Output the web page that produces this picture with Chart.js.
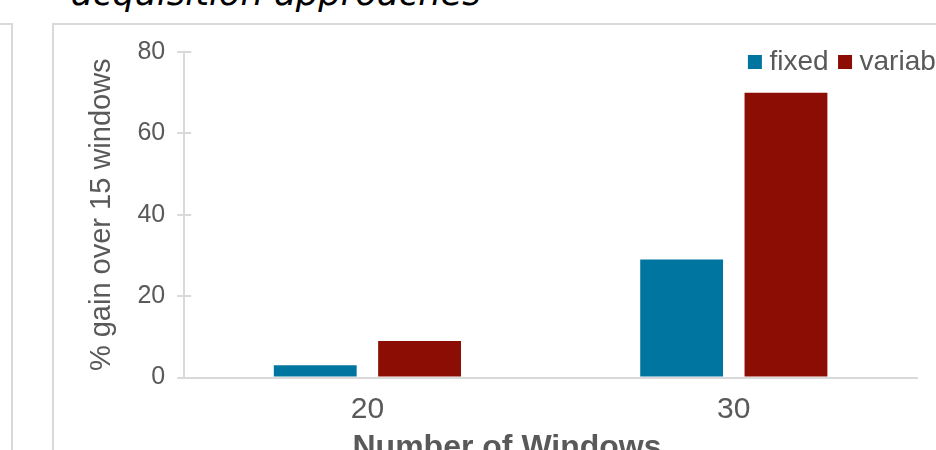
<!DOCTYPE html>
<html>
<head>
<meta charset="utf-8">
<script src="https://cdn.jsdelivr.net/npm/chart.js@4/dist/chart.umd.min.js"></script>
<style>
  html, body { margin: 0; padding: 0; background: #ffffff; }
  body { width: 936px; height: 450px; overflow: hidden; position: relative; }
  #pageTitle { position: absolute; left: 71px; top: -25px; font: italic 35.4px 'DejaVu Sans'; line-height: 35px; color: #000; white-space: nowrap; }
  #leftPanel { position: absolute; left: -100px; top: 23px; width: 111px; height: 500px; border-top: 2px solid #D9D9D9; border-right: 2px solid #D9D9D9; }
  #frame { position: absolute; left: 52px; top: 23px; width: 1000px; height: 500px; border-top: 2px solid #D9D9D9; border-left: 2px solid #D9D9D9; }
  #wrap { position: absolute; left: 54px; top: 25px; width: 906px; height: 425px; }
</style>
</head>
<body>
<div id="pageTitle"></div>
<div id="leftPanel"></div>
<div id="frame"></div>
<div id="wrap"><canvas id="c" width="906" height="425"></canvas></div>
<script>
const pageTitle = 'acquisition approaches';
const categories = ['20', '30'];
const seriesNames = ['fixed', 'variable'];
const fixedValues = [3, 29];
const variableValues = [9, 70];
const yTickValues = [0, 20, 40, 60, 80];
const yAxisTitle = '% gain over 15 windows';
const xAxisTitle = 'Number of Windows';

document.getElementById('pageTitle').textContent = pageTitle;

const axisColor = '#D9D9D9';
const textColor = '#595959';
const fontFamily = "'Liberation Sans', Arial, sans-serif";

const legendShift = {
  id: 'legendShift',
  afterLayout(chart, args, opts) {
    const lg = chart.legend;
    if (lg) {
      lg.left += opts.dx;
      lg.right += opts.dx;
      lg.bottom = lg.top + opts.h;
      lg.height = opts.h;
    }
  }
};

const innerTicks = {
  id: 'innerTicks',
  afterDraw(chart, args, opts) {
    const y = chart.scales.y;
    const ctx = chart.ctx;
    const left = chart.chartArea.left;
    ctx.save();
    ctx.strokeStyle = axisColor;
    ctx.lineWidth = 2;
    y.ticks.forEach(t => {
      const py = Math.round(y.getPixelForValue(t.value));
      ctx.beginPath();
      ctx.moveTo(left, py);
      ctx.lineTo(left + opts.length, py);
      ctx.stroke();
    });
    ctx.restore();
  }
};

const xTitlePlugin = {
  id: 'xTitlePlugin',
  afterDraw(chart, args, opts) {
    const ctx = chart.ctx;
    ctx.save();
    ctx.font = 'bold 32px ' + fontFamily;
    ctx.fillStyle = textColor;
    ctx.textAlign = 'center';
    ctx.textBaseline = 'alphabetic';
    ctx.fillText(opts.text, chart.width / 2, chart.chartArea.bottom + opts.offset);
    ctx.restore();
  }
};

new Chart(document.getElementById('c'), {
  type: 'bar',
  data: {
    labels: categories,
    datasets: [
      { label: seriesNames[0], data: fixedValues, backgroundColor: '#00759F', borderWidth: 0 },
      { label: seriesNames[1], data: variableValues, backgroundColor: '#8B0D03', borderWidth: 0 }
    ]
  },
  options: {
    responsive: false,
    devicePixelRatio: 1,
    animation: false,
    datasets: { bar: { categoryPercentage: 0.5695, barPercentage: 0.794 } },
    layout: { padding: { left: 30.6, right: 43, top: 6, bottom: 7.5 } },
    scales: {
      x: {
        grid: { display: false, drawTicks: false },
        border: { display: true, color: axisColor, width: 2 },
        ticks: { padding: 14.5, color: textColor, font: { family: fontFamily, size: 30 } }
      },
      y: {
        min: yTickValues[0],
        max: yTickValues[yTickValues.length - 1],
        afterBuildTicks(scale) { scale.ticks = yTickValues.map(v => ({ value: v })); },
        ticks: { padding: 12, color: textColor, font: { family: fontFamily, size: 25 } },
        grid: { drawOnChartArea: false, drawTicks: true, tickLength: 7, color: axisColor, lineWidth: 2 },
        border: { display: true, color: axisColor, width: 2 },
        title: { display: true, text: yAxisTitle, color: textColor, font: { family: fontFamily, size: 29 }, padding: { top: 0, bottom: 6 } }
      }
    },
    plugins: {
      tooltip: { enabled: false },
      legend: {
        position: 'top',
        align: 'end',
        maxHeight: 20,
        labels: {
          usePointStyle: true,
          pointStyle: 'rect',
          boxWidth: 1,
          boxHeight: 14,
          padding: 16,
          color: textColor,
          font: { family: fontFamily, size: 28 }
        }
      },
      legendShift: { dx: 56.6, h: 60 },
      innerTicks: { length: 7 },
      xTitlePlugin: { text: xAxisTitle, offset: 79.5 }
    }
  },
  plugins: [legendShift, innerTicks, xTitlePlugin]
});
</script>
</body>
</html>
